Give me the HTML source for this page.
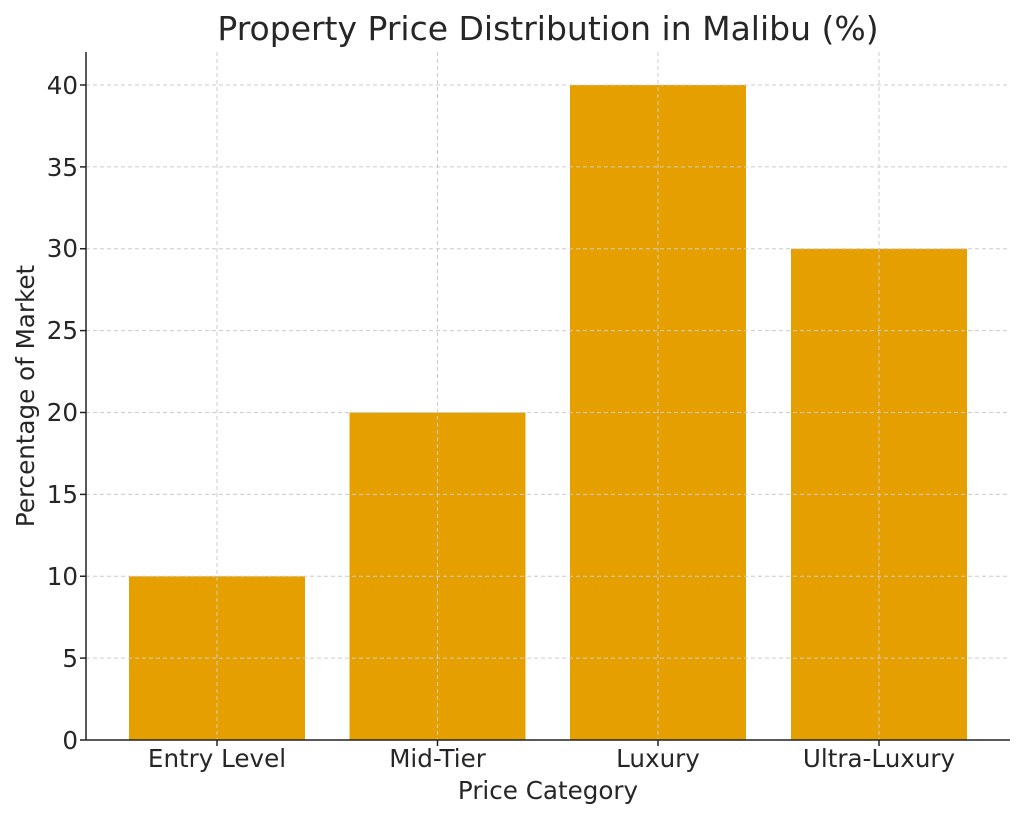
<!DOCTYPE html>
<html><head><meta charset="utf-8"><style>
body{margin:0;background:#fff;}
svg text{font-family:"DejaVu Sans","Liberation Sans",sans-serif;fill:#262626;}
</style></head><body>
<svg width="1024" height="819" xmlns="http://www.w3.org/2000/svg">
<rect width="1024" height="819" fill="#fff"/>
<g fill="#E5A000">
<rect x="129" y="576.25" width="176" height="163.75"/>
<rect x="349.5" y="412.5" width="176" height="327.5"/>
<rect x="570" y="85" width="176" height="655"/>
<rect x="791" y="248.75" width="176" height="491.25"/>
</g>
<g stroke="#ccc" stroke-width="1" stroke-dasharray="4,3">
<line x1="86" x2="1010" y1="658.1" y2="658.1"/>
<line x1="86" x2="1010" y1="576.25" y2="576.25"/>
<line x1="86" x2="1010" y1="494.4" y2="494.4"/>
<line x1="86" x2="1010" y1="412.5" y2="412.5"/>
<line x1="86" x2="1010" y1="330.6" y2="330.6"/>
<line x1="86" x2="1010" y1="248.75" y2="248.75"/>
<line x1="86" x2="1010" y1="166.9" y2="166.9"/>
<line x1="86" x2="1010" y1="85" y2="85"/>
<line x1="217" x2="217" y1="52" y2="740"/>
<line x1="437.5" x2="437.5" y1="52" y2="740"/>
<line x1="658" x2="658" y1="52" y2="740"/>
<line x1="879" x2="879" y1="52" y2="740"/>
</g>
<g stroke="#222" stroke-width="1.5">
<line x1="86" x2="86" y1="52" y2="740"/>
<line x1="86" x2="1010" y1="740" y2="740"/>
<line x1="80" x2="86" y1="740" y2="740"/><line x1="80" x2="86" y1="658.1" y2="658.1"/>
<line x1="80" x2="86" y1="576.25" y2="576.25"/><line x1="80" x2="86" y1="494.4" y2="494.4"/>
<line x1="80" x2="86" y1="412.5" y2="412.5"/><line x1="80" x2="86" y1="330.6" y2="330.6"/>
<line x1="80" x2="86" y1="248.75" y2="248.75"/><line x1="80" x2="86" y1="166.9" y2="166.9"/>
<line x1="80" x2="86" y1="85" y2="85"/>
<line x1="217" x2="217" y1="740" y2="746"/><line x1="437.5" x2="437.5" y1="740" y2="746"/>
<line x1="658" x2="658" y1="740" y2="746"/><line x1="879" x2="879" y1="740" y2="746"/>
</g>
<g font-size="24.6" text-anchor="end">
<text x="78" y="749">0</text><text x="78" y="667">5</text><text x="78" y="585">10</text>
<text x="78" y="503">15</text><text x="78" y="421">20</text><text x="78" y="339">25</text>
<text x="78" y="257">30</text><text x="78" y="176">35</text><text x="78" y="94">40</text>
</g>
<g font-size="24.6" text-anchor="middle">
<text x="217" y="767">Entry Level</text><text x="437.5" y="767">Mid-Tier</text>
<text x="658" y="767">Luxury</text><text x="879" y="767">Ultra-Luxury</text>
<text x="548" y="799">Price Category</text>
<text x="548" y="40" font-size="33">Property Price Distribution in Malibu (%)</text>
<text transform="translate(34,396) rotate(-90)">Percentage of Market</text>
</g>
</svg>
</body></html>
